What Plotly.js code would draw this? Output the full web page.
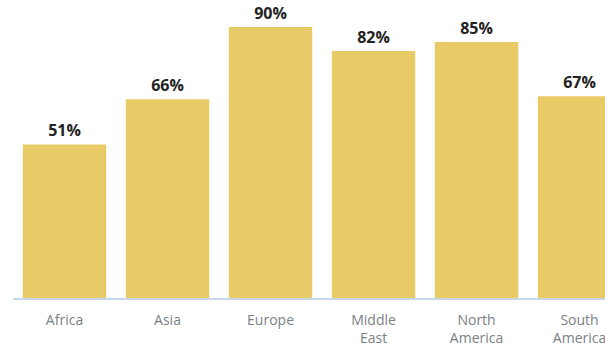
<!DOCTYPE html>
<html>
<head>
<meta charset="utf-8">
<script src="https://cdn.plot.ly/plotly-3.0.1.min.js"></script>
<style>html,body{margin:0;padding:0;background:#fff;overflow:hidden}</style>
</head>
<body>
<div id="chart" style="width:605px;height:347px"></div>
<script>
var categories = ["Africa", "Asia", "Europe", "Middle<br>East", "North<br>America", "South<br>America"];
var values = [51, 66, 90, 82, 85, 67];
var labels = ["51%", "66%", "90%", "82%", "85%", "67%"];

var trace = {
  type: "bar",
  x: categories,
  y: values,
  text: labels,
  textposition: "outside",
  textfont: {family: "Open Sans, sans-serif", size: 16, color: "#222222", weight: "bold"},
  marker: {color: "#E8CB66"},
  cliponaxis: false,
  hoverinfo: "none"
};

var layout = {
  width: 605,
  height: 347,
  margin: {l: 13, r: 0, t: 10, b: 49},
  paper_bgcolor: "#ffffff",
  plot_bgcolor: "#ffffff",
  bargap: 0.19,
  showlegend: false,
  xaxis: {
    range: [-0.5, 5.247],
    showline: true,
    linecolor: "#C8D6EA",
    linewidth: 2,
    showgrid: false,
    zeroline: false,
    ticks: "outside",
    ticklen: 8,
    tickcolor: "rgba(0,0,0,0)",
    tickfont: {family: "Open Sans, sans-serif", size: 14, color: "#7a7f85"},
    fixedrange: true
  },
  yaxis: {
    range: [0, 95.65],
    visible: false,
    showgrid: false,
    zeroline: false,
    fixedrange: true
  }
};

Plotly.newPlot("chart", [trace], layout, {displayModeBar: false, staticPlot: true});
</script>
</body>
</html>
